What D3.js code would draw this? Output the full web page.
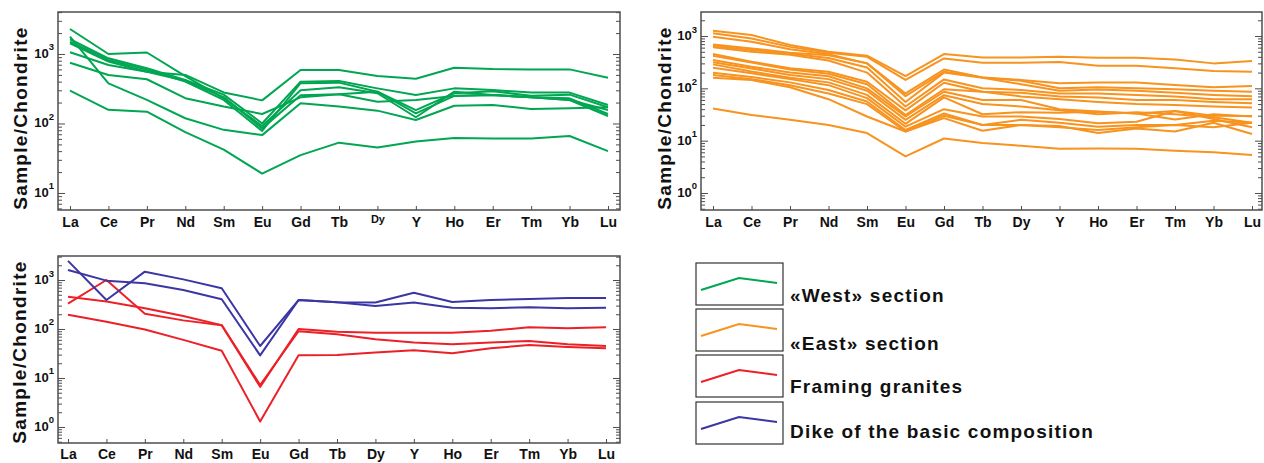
<!DOCTYPE html>
<html>
<head>
<meta charset="utf-8">
<script src="https://cdn.jsdelivr.net/npm/d3@7"></script>
<style>
  html, body { margin: 0; padding: 0; background: #fff; }
  svg { display: block; }
</style>
</head>
<body>
<script>
// ---------------- DATA ----------------
const elements = ["La","Ce","Pr","Nd","Sm","Eu","Gd","Tb","Dy","Y","Ho","Er","Tm","Yb","Lu"];

// «West» section (chondrite-normalised)
const westSeries = [
  [2290,1000,1050,480,230,92,300,332,272,123,287,257,238,230,137],
  [1774,378,218,119,81,68,195,175,153,112,180,184,162,166,171],
  [1628,867,622,422,260,100,400,409,320,257,320,303,278,278,184],
  [1503,820,590,400,218,78,380,387,287,156,272,290,250,260,171],
  [1426,780,556,410,240,85,255,263,287,140,250,257,238,218,128],
  [1058,694,556,499,280,215,589,589,482,441,635,608,600,600,456],
  [749,499,433,231,175,137,238,263,206,218,249,257,238,218,156],
  [296,157,148,75,42,19,35,53,45,55,62,61,61,66,40]
];

// «East» section
const eastSeries = [
  [1265,1045,673,500,420,172,453,390,390,400,385,385,357,300,332],
  [1125,900,620,480,400,145,373,309,309,320,270,270,241,215,208],
  [970,780,560,450,300,80,229,162,145,125,129,129,116,105,111],
  [692,580,480,430,302,71,208,162,140,100,105,100,96,90,86],
  [644,540,460,380,250,55,200,160,120,90,95,90,82,75,71],
  [607,500,440,340,200,45,148,100,93,80,80,75,70,62,62],
  [453,323,241,208,134,38,128,86,82,70,67,60,60,55,52],
  [420,310,230,190,120,31,96,86,70,62,55,50,48,45,43],
  [348,259,200,170,100,29,86,60,60,40,36,33,37,30,29.5],
  [314,240,180,150,90,25,74,50,45,38,32,35,32,28,22],
  [287,210,160,130,75,21,67,32,35,34,35.6,33,25.5,32,29],
  [248,194,150,115,65,18.5,40,29,29,26,21.5,23,37,26,18],
  [199,165,130,93,56,16,33,20,25,22,18.5,20,20,24,22],
  [179,150,115,80,50,15,27,15.5,20,19,14,17,15,22,13.4],
  [160,144,105,62,29,15,30,20,20,18,16,18,20,18,22],
  [41,31,25,20,14,5,11,9,8,7,7.1,7,6.4,6,5.3]
];

// Framing granites
const framingSeries = [
  [330,1000,204,150,119,6.6,100,88,84,84,84,92,108,103,108],
  [455,363,264,184,120,7.2,90,78,62,53,49,53,57,49,45],
  [196,141,98,60,36,1.3,29,29.5,33,37,32,40.5,47,43,40.5]
];

// Dike of the basic composition
const dikeSeries = [
  [2460,390,1480,1030,680,45,390,351,348,550,356,390,410,430,430],
  [1600,970,860,625,405,29,390,351,295,348,272,265,277,265,272]
];

const legendLabels = ["«West» section","«East» section","Framing granites","Dike of the basic composition"];
const yAxisTitle = "Sample/Chondrite";

const colors = { west:"#00a651", east:"#f7931e", framing:"#ec2027", dike:"#3b36a4" };
const frameColor = "#4d4d4d";
const font = "'Liberation Sans', Arial, Helvetica, sans-serif";

// ---------------- DRAW ----------------
const svg = d3.select("body").append("svg").attr("width",1264).attr("height",463);

function panel(cfg) {
  const g = svg.append("g");
  const x = d3.scalePoint().domain(elements).range(cfg.xr);
  const y = d3.scaleLog().domain([Math.pow(10,cfg.lmin), Math.pow(10,cfg.lmax)]).range([cfg.fy1, cfg.fy0]);

  // data lines
  const line = d3.line().x((d,i)=>x(elements[i])).y(d=>y(d));
  cfg.groups.forEach(grp => {
    g.append("g").selectAll("path").data(grp.data).join("path")
      .attr("d", line).attr("fill","none").attr("stroke", grp.color)
      .attr("stroke-width", 2).attr("stroke-linejoin","round");
  });

  // minor/major tick values
  const minors = [], majors = [];
  for (let k = Math.floor(cfg.lmin); k <= Math.ceil(cfg.lmax); k++) {
    for (let m = 1; m <= 9; m++) {
      const v = m * Math.pow(10,k);
      const lv = Math.log10(v);
      if (lv < cfg.lmin || lv > cfg.lmax) continue;
      (m === 1 ? majors : minors).push(v);
    }
  }
  function styleAxis(sel) {
    sel.select(".domain").remove();
    sel.selectAll(".tick line").attr("stroke", frameColor).attr("stroke-width", 1);
  }
  g.append("g").attr("transform",`translate(${cfg.fx0},0)`)
    .call(d3.axisLeft(y).tickValues(minors).tickSize(-4).tickFormat("")).call(styleAxis);
  g.append("g").attr("transform",`translate(${cfg.fx1},0)`)
    .call(d3.axisRight(y).tickValues(minors).tickSize(-4).tickFormat("")).call(styleAxis);
  g.append("g").attr("transform",`translate(${cfg.fx1},0)`)
    .call(d3.axisRight(y).tickValues(majors).tickSize(-7).tickFormat("")).call(styleAxis);
  const la = g.append("g").attr("transform",`translate(${cfg.fx0},0)`)
    .call(d3.axisLeft(y).tickValues(majors).tickSize(-7).tickPadding(4)).call(styleAxis);
  la.selectAll(".tick text").each(function(d) {
    const t = d3.select(this);
    t.text(null).attr("dy", null).attr("y", 3.5)
      .attr("font-family", font).attr("font-weight","bold").attr("font-size", 13).attr("fill","#111");
    t.append("tspan").text("10");
    t.append("tspan").attr("dy", -7.5).attr("font-size", 9.5).text(Math.round(Math.log10(d)));
  });

  // x axis
  const xa = g.append("g").attr("transform",`translate(0,${cfg.fy1})`)
    .call(d3.axisBottom(x).tickSize(-4)).call(styleAxis);
  xa.selectAll(".tick text")
    .attr("y", cfg.labelOffset).attr("dy", null)
    .attr("font-family", font).attr("font-weight","bold").attr("font-size", 14).attr("fill","#111")
    .each(function(d) {
      if (cfg.smallDy && d === "Dy") {
        d3.select(this).attr("font-size", 11).attr("y", cfg.labelOffset - 4);
      }
    });

  // frame
  g.append("rect").attr("x",cfg.fx0).attr("y",cfg.fy0)
    .attr("width",cfg.fx1-cfg.fx0).attr("height",cfg.fy1-cfg.fy0)
    .attr("fill","none").attr("stroke",frameColor).attr("stroke-width",1.5);

  // y title
  g.append("text")
    .attr("transform",`translate(${cfg.titleX},${cfg.titleY}) rotate(-90)`)
    .attr("text-anchor","middle").attr("font-family",font).attr("font-weight","bold")
    .attr("font-size",19).attr("letter-spacing","1.3px").attr("fill","#111")
    .text(yAxisTitle);
}

panel({ fx0:58, fx1:620, fy0:12, fy1:210, xr:[70,608], lmin:0.755, lmax:3.604,
        groups:[{data:westSeries, color:colors.west}], labelOffset:17, smallDy:true,
        titleX:26.5, titleY:118 });
panel({ fx0:701, fx1:1262, fy0:12, fy1:210, xr:[713,1252], lmin:-0.325, lmax:3.459,
        groups:[{data:eastSeries, color:colors.east}], labelOffset:17,
        titleX:670.5, titleY:118 });
panel({ fx0:58, fx1:620, fy0:256, fy1:443, xr:[68,606], lmin:-0.327, lmax:3.49,
        groups:[{data:framingSeries, color:colors.framing},{data:dikeSeries, color:colors.dike}], labelOffset:16,
        titleX:26, titleY:352 });

// legend
const legendColors = [colors.west, colors.east, colors.framing, colors.dike];
const boxTops = [263, 309, 355, 402];
const glyph = [[5,27],[43,15],[81,20]];
const lg = svg.append("g");
legendLabels.forEach((lab, i) => {
  const top = boxTops[i];
  lg.append("rect").attr("x",696).attr("y",top).attr("width",87).attr("height",42)
    .attr("fill","none").attr("stroke","#333").attr("stroke-width",1.2);
  lg.append("path")
    .attr("d", d3.line()(glyph.map(p => [696 + p[0], top + p[1]])))
    .attr("fill","none").attr("stroke",legendColors[i]).attr("stroke-width",2);
});
const textBase = [302, 350, 393, 438];
legendLabels.forEach((lab, i) => {
  lg.append("text").attr("x",790).attr("y",textBase[i])
    .attr("font-family",font).attr("font-weight","bold").attr("font-size",19)
    .attr("letter-spacing","1.2px").attr("fill","#111").text(lab);
});
</script>
</body>
</html>
